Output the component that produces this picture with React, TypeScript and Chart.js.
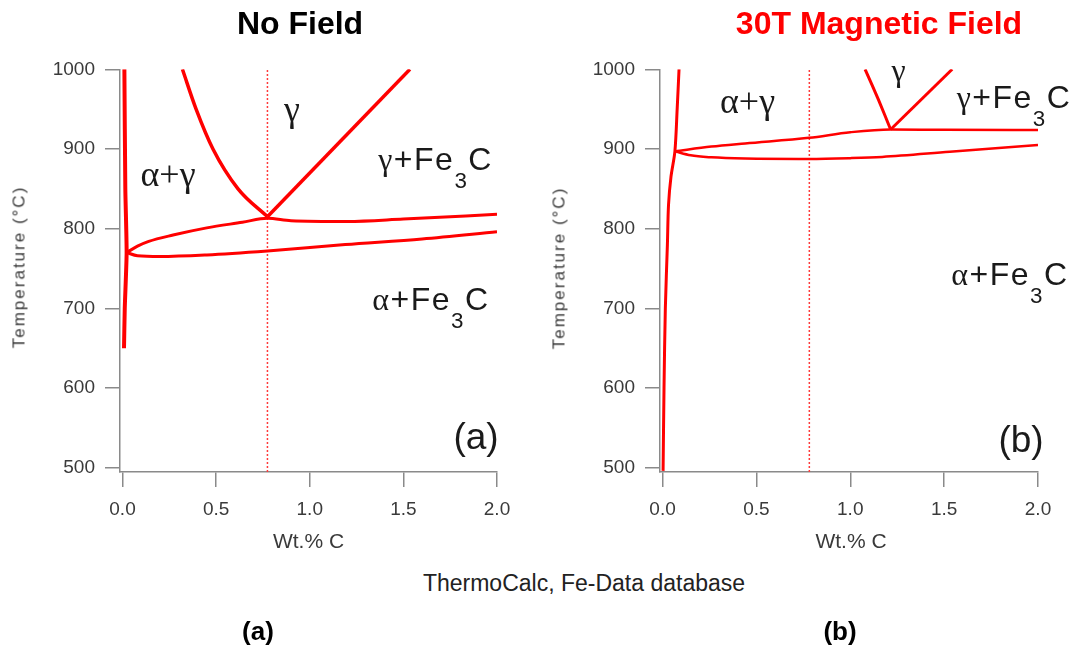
import React, { useEffect, useRef } from "react";
import { Chart, registerables } from "chart.js";

Chart.register(...registerables);

type Pt = [number, number];

// ---- axis values ----
const xTickValues = [0, 0.5, 1.0, 1.5, 2.0];
const yTickValues = [500, 600, 700, 800, 900, 1000];
const xMin = -0.0134;
const xMax = 2.0;
const yMin = 494.6;
const yMax = 1000;

// ---- (a) No Field : phase boundaries [wt.% C, °C] ----
const nfFerriteBoundary: Pt[] = [[0.01, 1000], [0.015, 850], [0.022, 770], [0.012, 700], [0.008, 650]];
const nfA3: Pt[] = [[0.32, 1000], [0.393, 950], [0.483, 900], [0.617, 850], [0.774, 815]];
const nfAcm: Pt[] = [[0.774, 815], [1.535, 1000]];
const nfUpper: Pt[] = [[0.022, 770], [0.08, 778], [0.14, 784], [0.27, 792], [0.45, 801], [0.64, 808], [0.774, 813], [0.9, 810], [1.2, 809], [1.5, 812], [2.0, 818]];
const nfLower: Pt[] = [[0.022, 770], [0.08, 766], [0.2, 765], [0.45, 767], [0.774, 772], [1.19, 780], [1.6, 787], [2.0, 796]];
const nfEutectoidMark = 0.774;

// ---- (b) 30T Magnetic Field ----
const mfFerriteBoundary: Pt[] = [[0.088, 1000], [0.078, 950], [0.066, 897], [0.045, 865], [0.032, 830], [0.026, 780], [0.015, 700], [0.008, 600], [0.003, 496]];
const mfA3: Pt[] = [[1.079, 1000], [1.15, 962], [1.215, 924.5]];
const mfAcm: Pt[] = [[1.215, 924.5], [1.543, 1000]];
const mfUpper: Pt[] = [[0.066, 897], [0.26, 903], [0.44, 907], [0.78, 914], [1.0, 921], [1.215, 924.5], [1.5, 924], [2.0, 923.8]];
const mfLower: Pt[] = [[0.066, 897], [0.15, 892], [0.26, 889.5], [0.44, 888], [0.78, 887.5], [1.0, 888.5], [1.17, 890], [1.53, 896.5], [2.0, 905]];
const mfEutectoidMark = 0.782;

const RED = "#ff0000";
const AXIS = "#8a8a8a";
const TICK_TEXT = "#3a3a3a";
const SANS = "'Liberation Sans', Arial, sans-serif";
const SERIF = "'Liberation Serif', 'Times New Roman', serif";

type Curve = { pts: Pt[]; width: number; tension: number; monotone?: boolean };

function toData(pts: Pt[]) {
  return pts.map(([x, y]) => ({ x, y }));
}

function PhaseChart(props: {
  left: number;
  width: number;
  height: number;
  areaRight: number;
  curves: Curve[];
  mark: number;
}) {
  const ref = useRef<HTMLCanvasElement>(null);
  useEffect(() => {
    const canvas = ref.current!;
    const datasets: any[] = props.curves.map((c) => ({
      data: toData(c.pts),
      showLine: true,
      borderColor: RED,
      backgroundColor: RED,
      borderWidth: c.width,
      pointRadius: 0,
      tension: c.tension,
      cubicInterpolationMode: c.monotone ? "monotone" : "default",
      borderCapStyle: "butt",
      borderJoinStyle: "round",
    }));
    datasets.push({
      data: toData([[props.mark, yMin], [props.mark, yMax]]),
      showLine: true,
      borderColor: "#ff3a3a",
      borderWidth: 1.5,
      borderDash: [2, 2],
      pointRadius: 0,
      tension: 0,
    });
    const chart = new Chart(canvas, {
      type: "scatter",
      data: { datasets },
      options: {
        responsive: false,
        animation: false,
        devicePixelRatio: 1,
        layout: { padding: { left: 0, top: 69.3, right: props.width - props.areaRight, bottom: 0 } },
        plugins: { legend: { display: false }, tooltip: { enabled: false }, title: { display: false } },
        scales: {
          x: {
            type: "linear",
            min: xMin,
            max: xMax,
            afterBuildTicks: (s: any) => {
              s.ticks = xTickValues.map((v) => ({ value: v }));
            },
            afterFit: (s: any) => {
              s.height = props.height - 472;
            },
            ticks: {
              autoSkip: false,
              maxRotation: 0,
              padding: 11,
              color: TICK_TEXT,
              font: { family: SANS, size: 19 },
              callback: (v: any) => Number(v).toFixed(1),
            },
            grid: { display: true, drawOnChartArea: false, drawTicks: true, tickLength: 15, color: AXIS, lineWidth: 1.5 },
            border: { display: true, color: AXIS, width: 1.5 },
          },
          y: {
            type: "linear",
            min: yMin,
            max: yMax,
            afterBuildTicks: (s: any) => {
              s.ticks = yTickValues.map((v) => ({ value: v }));
            },
            afterFit: (s: any) => {
              s.width = 120;
            },
            ticks: {
              autoSkip: false,
              padding: 10,
              color: TICK_TEXT,
              font: { family: SANS, size: 19 },
              callback: (v: any) => String(v),
            },
            grid: { display: true, drawOnChartArea: false, drawTicks: true, tickLength: 15, color: AXIS, lineWidth: 1.5 },
            border: { display: true, color: AXIS, width: 1.5 },
          },
        },
      } as any,
    });
    return () => chart.destroy();
  }, []);
  return (
    <canvas
      ref={ref}
      width={props.width}
      height={props.height}
      style={{ position: "absolute", left: props.left, top: 0, width: props.width, height: props.height }}
    />
  );
}

function Label(props: {
  x: number;
  base: number;
  size: number;
  serif?: boolean;
  bold?: boolean;
  color?: string;
  spacing?: number;
  children: any;
}) {
  const asc = props.serif ? 0.8375 : 0.8465;
  return (
    <div
      style={{
        position: "absolute",
        left: props.x,
        top: props.base - asc * props.size,
        transform: "translateX(-50%)",
        fontSize: props.size,
        lineHeight: `${props.size}px`,
        whiteSpace: "nowrap",
        fontFamily: props.serif ? SERIF : SANS,
        fontWeight: props.bold ? "bold" : "normal",
        color: props.color || "#1a1a1a",
        letterSpacing: props.spacing ? `${props.spacing}px` : undefined,
      }}
    >
      {props.children}
    </div>
  );
}

const G = (s: string) => <span style={{ fontFamily: SERIF }}>{s}</span>;
const Sub = (s: string) => (
  <span style={{ fontSize: "0.7em", position: "relative", top: "0.8em" }}>{s}</span>
);

function Phase(props: { greek: string; x: number; base: number }) {
  return (
    <Label x={props.x} base={props.base} size={32} spacing={1.5}>
      {G(props.greek)}+Fe{Sub("3")}C
    </Label>
  );
}

function YTitle(props: { cx: number; cy: number }) {
  return (
    <div
      style={{
        position: "absolute",
        left: props.cx,
        top: props.cy,
        transform: "translate(-50%,-50%) rotate(-90deg)",
        fontFamily: SANS,
        fontSize: 17,
        lineHeight: "17px",
        letterSpacing: "2px",
        whiteSpace: "nowrap",
        color: TICK_TEXT,
      }}
    >
      Temperature (°C)
    </div>
  );
}

export default function App() {
  const leftCurves: Curve[] = [
    { pts: nfFerriteBoundary, width: 4, tension: 0.2 },
    { pts: nfA3, width: 3.5, tension: 0, monotone: true },
    { pts: nfAcm, width: 3.5, tension: 0 },
    { pts: nfUpper, width: 3, tension: 0, monotone: true },
    { pts: nfLower, width: 3, tension: 0, monotone: true },
  ];
  const rightCurves: Curve[] = [
    { pts: mfFerriteBoundary, width: 3, tension: 0.3 },
    { pts: mfA3, width: 3, tension: 0.2 },
    { pts: mfAcm, width: 3, tension: 0 },
    { pts: mfUpper, width: 2.5, tension: 0, monotone: true },
    { pts: mfLower, width: 2.5, tension: 0, monotone: true },
  ];
  return (
    <div style={{ position: "absolute", left: 0, top: 0, width: 1075, height: 647, background: "#fff", overflow: "hidden" }}>
      <PhaseChart left={0} width={540} height={530} areaRight={497} curves={leftCurves} mark={nfEutectoidMark} />
      <PhaseChart left={540} width={535} height={530} areaRight={498} curves={rightCurves} mark={mfEutectoidMark} />

      <Label x={300} base={34.3} size={32} bold color="#000">No Field</Label>
      <Label x={879} base={34.3} size={32} bold color="#ff0000">30T Magnetic Field</Label>

      <YTitle cx={19} cy={266.5} />
      <YTitle cx={559} cy={268} />

      <Label x={308.5} base={548} size={21} color={TICK_TEXT}>Wt.% C</Label>
      <Label x={851} base={548} size={21} color={TICK_TEXT}>Wt.% C</Label>

      <Label x={584} base={591.5} size={23} color="#222">ThermoCalc, Fe-Data database</Label>
      <Label x={258} base={640} size={26} bold color="#000">(a)</Label>
      <Label x={840} base={640} size={26} bold color="#000">(b)</Label>

      {/* (a) annotations */}
      <Label x={292} base={121} size={36} serif>γ</Label>
      <Label x={168} base={186} size={36} serif>α+γ</Label>
      <Phase greek="γ" x={435.6} base={170} />
      <Phase greek="α" x={431} base={310} />
      <Label x={476} base={449} size={37}>(a)</Label>

      {/* (b) annotations */}
      <Label x={747.5} base={113} size={36} serif>α+γ</Label>
      <Label x={898.5} base={81} size={32} serif>γ</Label>
      <Phase greek="γ" x={1014} base={108.3} />
      <Phase greek="α" x={1010} base={285} />
      <Label x={1021} base={452} size={37}>(b)</Label>
    </div>
  );
}
